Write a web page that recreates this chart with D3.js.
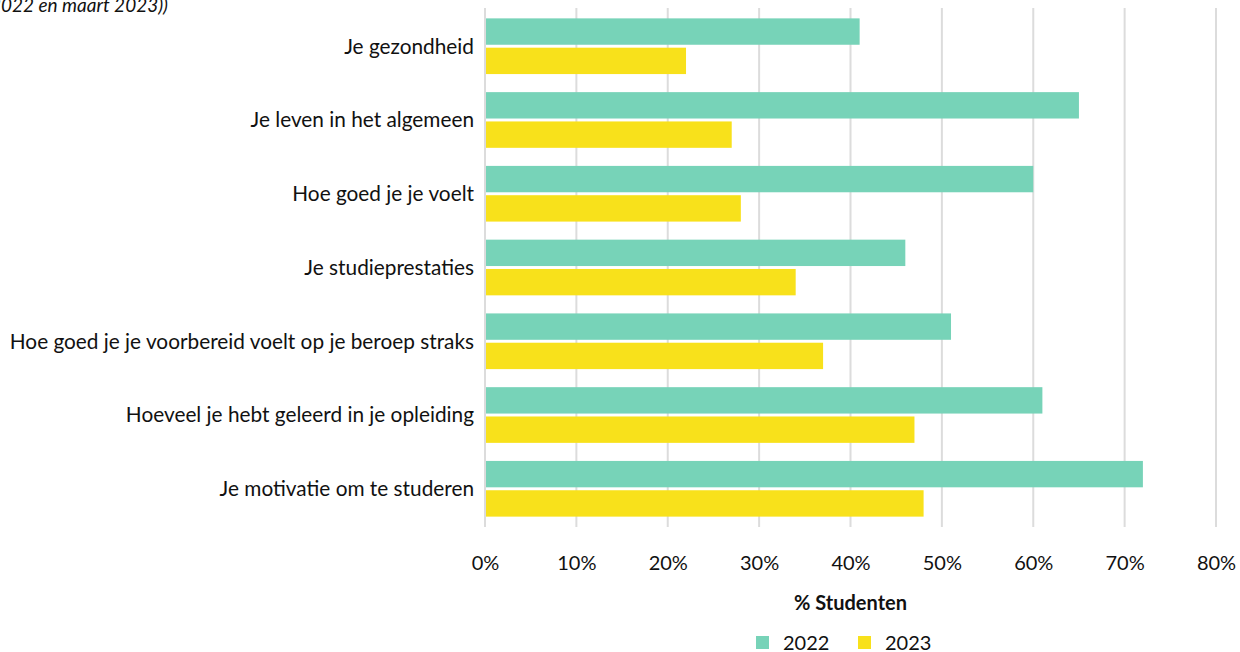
<!DOCTYPE html>
<html>
<head>
  <meta charset="utf-8">
  <title>Studenten</title>
  <script src="https://d3js.org/d3.v7.min.js"></script>
  <style>
    body { margin: 0; background: #fff; }
    text { font-family: Lato, "Open Sans", sans-serif; fill: #111; }
  </style>
</head>
<body>
  <div id="chart"></div>
  <script>
    // categories and values (% studenten)
    var categories = [
      'Je gezondheid',
      'Je leven in het algemeen',
      'Hoe goed je je voelt',
      'Je studieprestaties',
      'Hoe goed je je voorbereid voelt op je beroep straks',
      'Hoeveel je hebt geleerd in je opleiding',
      'Je motivatie om te studeren'
    ];
    var series = ['2022', '2023'];
    var values2022 = [41, 65, 60, 46, 51, 61, 72];
    var values2023 = [22, 27, 28, 34, 37, 47, 48];
    var ticks = [0, 10, 20, 30, 40, 50, 60, 70, 80];

    var colors = { '2022': '#77d3b8', '2023': '#f8e11b' };

    var width = 1240, height = 652;
    var plotLeft = 485, plotRight = 1216, plotTop = 11, plotBottom = 524;

    var svg = d3.select('#chart').append('svg')
      .attr('width', width)
      .attr('height', height);

    var x = d3.scaleLinear().domain([0, 80]).range([plotLeft, plotRight]);

    var y = d3.scaleBand().domain(categories)
      .range([plotTop, plotBottom]).paddingInner(0.245).paddingOuter(0.1);

    var ySub = d3.scaleBand().domain(series)
      .range([0, y.bandwidth()]).paddingInner(0.1);

    // gridlines
    svg.append('g').selectAll('line')
      .data(ticks).enter().append('line')
      .attr('x1', function (d) { return x(d); })
      .attr('x2', function (d) { return x(d); })
      .attr('y1', 8).attr('y2', 527)
      .attr('stroke', '#dcdcdc').attr('stroke-width', 2);

    // bars
    var rows = categories.map(function (c, i) {
      return { cat: c, vals: [
        { s: '2022', v: values2022[i] },
        { s: '2023', v: values2023[i] }
      ] };
    });

    var g = svg.append('g').selectAll('g')
      .data(rows).enter().append('g')
      .attr('transform', function (d) { return 'translate(0,' + y(d.cat) + ')'; });

    g.selectAll('rect')
      .data(function (d) { return d.vals; })
      .enter().append('rect')
      .attr('x', x(0) + 1)
      .attr('y', function (d) { return ySub(d.s); })
      .attr('width', function (d) { return x(d.v) - x(0) - 1; })
      .attr('height', ySub.bandwidth())
      .attr('fill', function (d) { return colors[d.s]; });

    // category labels
    svg.append('g').selectAll('text')
      .data(categories).enter().append('text')
      .attr('x', 474)
      .attr('y', function (d) { return y(d) + y.bandwidth() / 2; })
      .attr('dy', '0.35em')
      .attr('text-anchor', 'end')
      .attr('font-size', 20.8)
      .text(function (d) { return d; });

    // x axis tick labels
    var xAxis = d3.axisBottom(x).tickValues(ticks)
      .tickFormat(function (d) { return d + '%'; })
      .tickSize(0).tickPadding(0);
    var ax = svg.append('g')
      .attr('transform', 'translate(0,556)')
      .call(xAxis);
    ax.select('.domain').remove();
    ax.selectAll('text')
      .attr('font-size', 20)
      .style('font-family', 'Lato, sans-serif')
      .attr('fill', '#111')
      .attr('dy', '0.71em');

    // axis title
    svg.append('text')
      .attr('x', (plotLeft + plotRight) / 2)
      .attr('y', 610)
      .attr('text-anchor', 'middle')
      .attr('font-size', 20)
      .attr('font-weight', 'bold')
      .text('% Studenten');

    // legend
    var legend = svg.append('g').selectAll('g')
      .data(series).enter().append('g')
      .attr('transform', function (d, i) { return 'translate(' + (756 + i * 102) + ',636)'; });
    legend.append('rect')
      .attr('width', 13).attr('height', 13)
      .attr('fill', function (d) { return colors[d]; });
    legend.append('text')
      .attr('x', 27).attr('y', 14)
      .attr('font-size', 20)
      .text(function (d) { return d; });

    // cut-off subtitle at top
    svg.append('text')
      .attr('x', 168).attr('y', 12)
      .attr('text-anchor', 'end')
      .attr('font-size', 19)
      .attr('font-style', 'italic')
      .text('(oktober 2022 en maart 2023))');
  </script>
</body>
</html>
